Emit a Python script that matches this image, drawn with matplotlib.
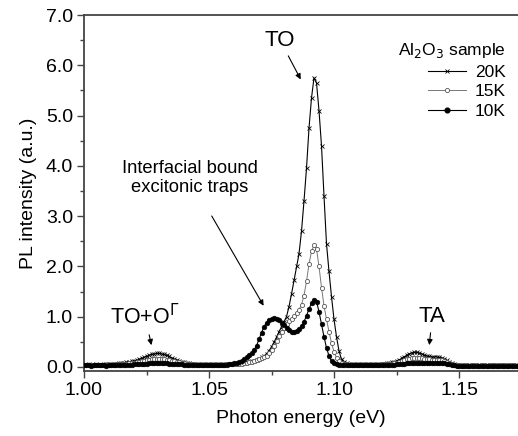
import numpy as np
import matplotlib
matplotlib.use("Agg")
import matplotlib.pyplot as plt
from matplotlib.ticker import MultipleLocator, FormatStrFormatter
from matplotlib.lines import Line2D

plt.rcParams['font.family'] = ['Liberation Sans', 'DejaVu Sans']

# Photon energy grid (eV)
energy = np.round(np.arange(1.000, 1.1745, 0.001), 3)

pl_20K = [
    0.04,0.04,0.05,0.04,0.04,0.05,0.04,0.04,0.05,0.05,0.05,0.05,0.06,0.06,0.07,
    0.07,0.08,0.09,0.10,0.11,0.12,0.13,0.15,0.17,0.19,0.21,0.23,0.25,0.26,0.27,
    0.27,0.26,0.25,0.23,0.21,0.18,0.16,0.14,0.12,0.10,0.09,0.08,0.07,0.06,0.06,
    0.05,0.05,0.05,0.05,0.05,0.05,0.05,0.05,0.05,0.05,0.05,0.06,0.06,0.06,0.06,
    0.06,0.06,0.07,0.07,0.08,0.09,0.10,0.11,0.12,0.14,0.16,0.19,0.22,0.26,0.32,
    0.40,0.49,0.59,0.70,0.80,0.90,1.00,1.20,1.45,1.72,2.00,2.25,2.70,3.30,3.95,
    4.75,5.35,5.75,5.65,5.10,4.40,3.40,2.45,1.90,1.40,0.95,0.60,0.32,0.15,0.09,
    0.07,0.06,0.05,0.05,0.05,0.05,0.05,0.05,0.05,0.05,0.05,0.05,0.05,0.05,0.06,
    0.06,0.07,0.08,0.09,0.10,0.12,0.14,0.17,0.20,0.23,0.26,0.28,0.29,0.29,0.28,
    0.26,0.24,0.22,0.21,0.20,0.20,0.20,0.19,0.18,0.16,0.13,0.10,0.07,0.05,0.04,
    0.03,0.03,0.03,0.02,0.03,0.03,0.03,0.02,0.03,0.03,0.03,0.03,0.02,0.03,0.03,
    0.03,0.03,0.02,0.03,0.03,0.03,0.03,0.02,0.03,0.03]

pl_15K = [
    0.04,0.03,0.04,0.04,0.03,0.04,0.04,0.04,0.03,0.04,0.04,0.04,0.04,0.05,0.05,
    0.05,0.06,0.06,0.07,0.07,0.08,0.09,0.10,0.11,0.12,0.13,0.14,0.15,0.16,0.16,
    0.16,0.16,0.15,0.14,0.13,0.12,0.11,0.10,0.09,0.08,0.07,0.06,0.05,0.05,0.05,
    0.04,0.04,0.04,0.04,0.04,0.04,0.04,0.04,0.04,0.04,0.04,0.04,0.05,0.05,0.05,
    0.05,0.05,0.06,0.06,0.07,0.08,0.09,0.10,0.11,0.13,0.15,0.17,0.19,0.22,0.27,
    0.34,0.42,0.51,0.61,0.70,0.78,0.85,0.91,0.96,1.01,1.07,1.14,1.24,1.42,1.70,
    2.05,2.30,2.42,2.35,2.00,1.58,1.22,0.95,0.70,0.48,0.30,0.18,0.11,0.07,0.05,
    0.05,0.04,0.04,0.04,0.04,0.04,0.04,0.04,0.04,0.04,0.04,0.04,0.04,0.04,0.05,
    0.05,0.05,0.06,0.06,0.07,0.08,0.10,0.11,0.13,0.15,0.16,0.17,0.18,0.18,0.18,
    0.17,0.16,0.15,0.15,0.14,0.14,0.14,0.14,0.13,0.12,0.10,0.08,0.06,0.04,0.03,
    0.03,0.02,0.03,0.03,0.02,0.03,0.03,0.03,0.02,0.03,0.03,0.02,0.03,0.03,0.03,
    0.02,0.03,0.03,0.03,0.02,0.03,0.03,0.03,0.02,0.03]

pl_10K = [
    0.03,0.03,0.03,0.02,0.03,0.03,0.03,0.03,0.03,0.02,0.03,0.03,0.03,0.03,0.03,
    0.03,0.04,0.04,0.04,0.04,0.05,0.05,0.05,0.06,0.06,0.06,0.07,0.07,0.07,0.08,
    0.08,0.07,0.07,0.07,0.06,0.06,0.06,0.05,0.05,0.05,0.04,0.04,0.04,0.04,0.03,
    0.03,0.03,0.03,0.03,0.03,0.03,0.03,0.03,0.03,0.03,0.03,0.04,0.04,0.05,0.06,
    0.07,0.08,0.10,0.12,0.15,0.19,0.23,0.28,0.33,0.42,0.55,0.68,0.80,0.88,0.93,
    0.96,0.97,0.96,0.93,0.88,0.83,0.78,0.73,0.70,0.70,0.71,0.75,0.81,0.90,1.02,
    1.15,1.27,1.33,1.30,1.10,0.85,0.60,0.38,0.22,0.12,0.07,0.05,0.04,0.03,0.03,
    0.03,0.03,0.03,0.03,0.03,0.03,0.03,0.03,0.03,0.03,0.03,0.03,0.03,0.03,0.03,
    0.03,0.03,0.04,0.04,0.04,0.05,0.05,0.06,0.06,0.07,0.07,0.08,0.08,0.08,0.08,
    0.08,0.08,0.08,0.08,0.08,0.08,0.08,0.08,0.08,0.07,0.06,0.05,0.04,0.03,0.02,
    0.02,0.02,0.02,0.02,0.02,0.02,0.02,0.02,0.02,0.02,0.02,0.02,0.02,0.02,0.02,
    0.02,0.02,0.02,0.02,0.02,0.02,0.02,0.02,0.02,0.02]

series_labels = ["20K", "15K", "10K"]

W, H = 518, 436
fig = plt.figure(figsize=(W / 100, H / 100), dpi=100)
ax = fig.add_axes([84 / W, 1 - 371 / H, 1 - 84 / W, (371 - 15) / H])

ax.plot(energy, pl_20K, color='black', lw=0.8, marker='x', ms=3, mew=0.6, zorder=3)
ax.plot(energy, pl_15K, color='#777777', lw=0.7, marker='o', ms=3, mfc='white',
        mec='#555555', mew=0.6, zorder=4)
ax.plot(energy, pl_10K, color='black', lw=0.8, marker='o', ms=3.4, mfc='black',
        mec='black', mew=0.4, zorder=5)

ax.set_xlim(1.0, 1.1736)
ax.set_ylim(-0.08, 7.0)
ax.xaxis.set_major_locator(MultipleLocator(0.05))
ax.xaxis.set_minor_locator(MultipleLocator(0.025))
ax.yaxis.set_major_locator(MultipleLocator(1.0))
ax.yaxis.set_minor_locator(MultipleLocator(0.5))
ax.xaxis.set_major_formatter(FormatStrFormatter('%.2f'))
ax.yaxis.set_major_formatter(FormatStrFormatter('%.1f'))

spine_c = '#444444'
for s in ['left', 'bottom', 'top']:
    ax.spines[s].set_color(spine_c)
    ax.spines[s].set_linewidth(1.3)
ax.spines['right'].set_visible(False)
ax.tick_params(which='both', direction='out', color=spine_c, top=False, right=False,
               labelsize=14, pad=3)
ax.tick_params(which='major', length=5, width=1.0)
ax.tick_params(which='minor', length=3, width=1.0)

ax.set_xlabel('Photon energy (eV)', fontsize=14, labelpad=8)
ax.set_ylabel('PL intensity (a.u.)', fontsize=14, labelpad=6)

arrowp = dict(arrowstyle='-|>', color='black', lw=0.8, mutation_scale=8)
ax.annotate('TO', xy=(1.0872, 5.67), xytext=(1.0784, 6.5), fontsize=16,
            ha='center', va='center', arrowprops=arrowp)
ax.annotate('TO+O$^{\\Gamma}$', xy=(1.0272, 0.38), xytext=(1.0245, 1.0), fontsize=15.5,
            ha='center', va='center', arrowprops=arrowp)
ax.annotate('TA', xy=(1.138, 0.38), xytext=(1.1393, 1.0), fontsize=16,
            ha='center', va='center', arrowprops=arrowp)
ax.annotate('Interfacial bound\nexcitonic traps', xy=(1.0724, 1.17), xytext=(1.0424, 3.75),
            fontsize=13.2, ha='center', va='center', linespacing=1.15,
            arrowprops=dict(arrowstyle='-|>', color='black', lw=0.8, mutation_scale=8,
                            shrinkA=14))

handles = [
    Line2D([], [], color='black', lw=0.8, marker='x', ms=3, mew=0.6),
    Line2D([], [], color='#777777', lw=0.7, marker='o', ms=3, mfc='white', mec='#555555', mew=0.6),
    Line2D([], [], color='black', lw=0.8, marker='o', ms=3.4, mfc='black'),
]
leg = ax.legend(handles, series_labels, title='Al$_2$O$_3$ sample', loc='upper right',
                bbox_to_anchor=(1.0, 0.96), frameon=False, fontsize=12.5,
                title_fontsize=12.5, handlelength=2.2, handletextpad=0.5,
                labelspacing=0.25, numpoints=1, borderaxespad=0.3)
leg._legend_box.align = 'right'

fig.savefig('out.png', dpi=100)
